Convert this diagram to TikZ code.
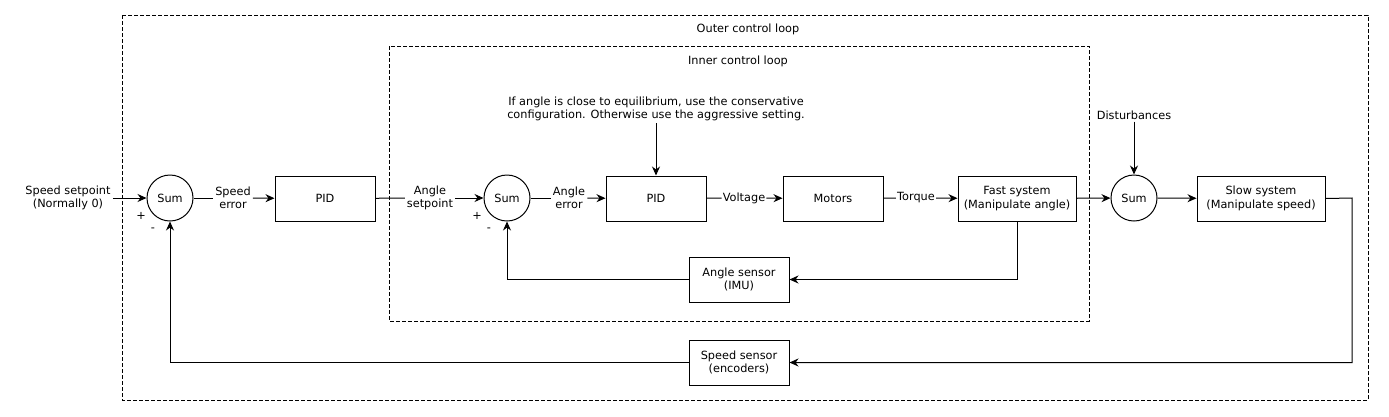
\documentclass[tikz,border=0pt]{standalone}
\usepackage{fontspec}
\setmainfont{DejaVu Sans}
\usepackage{tikz}
\usetikzlibrary{
  arrows,
  arrows.meta,
  positioning,
  calc,
  shapes
}

\tikzset{
  blk/.style={draw, line width=1pt, minimum width=100pt, minimum height=45pt, align=center},
  sumnode/.style={draw, circle, line width=1pt, minimum size=46pt, inner sep=0pt},
  lbl/.style={align=center, inner sep=2pt},
  sig/.style={line width=1pt},
  arr/.style={line width=1pt, -{Stealth[length=9pt,width=8pt]}},
  loopbox/.style={line width=0.8pt, dash pattern=on 4pt off 2pt}
}

\begin{document}
\begin{tikzpicture}[x=1pt, y=-1pt, font=\fontsize{11.3}{13.5}\selectfont]
    \useasboundingbox (0,0) rectangle (1389,416);
    \draw[loopbox] (122,15) rectangle (1368,400);
    \draw[loopbox] (389,46) rectangle (1089,321);
    \node (outerlbl) at (748,29) {Outer control loop};
    \node (innerlbl) at (738,61) {Inner control loop};

    \node[lbl] (setp) at (68,198) {Speed setpoint\\(Normally 0)};
    \node[sumnode] (sumspd) at (170,198) {Sum};
    \node[lbl] (spderr) at (233,198) {Speed\\error};
    \node[blk] (pidspd) at (325,198.5) {PID};
    \node[lbl] (angset) at (430,198) {Angle\\setpoint};
    \node[sumnode] (sumang) at (507,198) {Sum};
    \node[lbl] (angerr) at (569,198) {Angle\\error};
    \node[blk] (pidang) at (656,198.5) {PID};
    \node[lbl, inner sep=1pt] (volt) at (744,198) {Voltage};
    \node[blk] (motors) at (833,198.5) {Motors};
    \node[lbl, inner sep=1pt] (torque) at (916,198) {Torque};
    \node[blk, minimum width=118pt] (fast) at (1017,198.5) {Fast system\\(Manipulate angle)};
    \node[sumnode] (sumdist) at (1134,198) {Sum};
    \node[blk, minimum width=128pt] (slow) at (1261,198.5) {Slow system\\(Manipulate speed)};
    \node[blk] (angsens) at (739,279.5) {Angle sensor\\(IMU)};
    \node[blk] (spdsens) at (739,362.5) {Speed sensor\\(encoders)};
    \node[lbl] (dist) at (1134,115) {Disturbances};
    \node[lbl] (note) at (656,109) {If angle is close to equilibrium, use the conservative\\configuration. Otherwise use the aggressive setting.};
    \node (plusa) at (141,216) {+};
    \node (minusa) at (153,230) {-};
    \node (plusb) at (477,216) {+};
    \node (minusb) at (489,230) {-};
    \coordinate (slowout) at (1352,198);

    \draw[arr] (setp) -- (sumspd);
    \draw[sig] (sumspd) -- (spderr);
    \draw[arr] (spderr) -- (pidspd);
    \draw[sig] (pidspd) -- (angset);
    \draw[arr] (angset) -- (sumang);
    \draw[sig] (sumang) -- (angerr);
    \draw[arr] (angerr) -- (pidang);
    \draw[sig] (pidang) -- (volt);
    \draw[arr] (volt) -- (motors);
    \draw[sig] (motors) -- (torque);
    \draw[arr] (torque) -- (fast);
    \draw[arr] (fast) -- (sumdist);
    \draw[arr] (sumdist) -- (slow);
    \draw[arr] (dist) -- (sumdist);
    \draw[arr] (note) -- (pidang);
    \draw[arr] (fast.south) |- (angsens.east);
    \draw[arr] (angsens.west) -| (sumang.south);
    \draw[arr] (slow.east) -- (slowout) |- (spdsens.east);
    \draw[arr] (spdsens.west) -| (sumspd.south);
\end{tikzpicture}
\end{document}
